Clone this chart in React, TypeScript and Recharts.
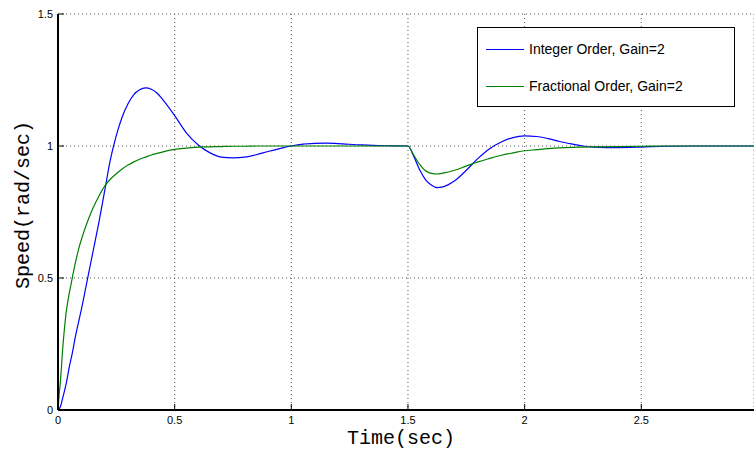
import React from 'react';
import { LineChart, Line, XAxis, YAxis, CartesianGrid, Legend } from 'recharts';

// step response, speed in rad/sec
const timeSec = [
  0, 0.005, 0.01, 0.02, 0.035, 0.05, 0.06, 0.075, 0.09, 0.1,
  0.125, 0.15, 0.175, 0.2, 0.225, 0.25, 0.275, 0.3, 0.325, 0.35,
  0.375, 0.4, 0.425, 0.45, 0.5, 0.55, 0.6, 0.65, 0.7, 0.75,
  0.8, 0.85, 0.9, 0.95, 1.0, 1.05, 1.1, 1.15, 1.2, 1.3,
  1.4, 1.5, 1.525, 1.55, 1.575, 1.6, 1.625, 1.65, 1.7, 1.75,
  1.8, 1.85, 1.9, 1.95, 2.0, 2.05, 2.1, 2.15, 2.2, 2.25,
  2.3, 2.4, 2.5, 2.6, 2.75, 3.0,
];

const integerOrder = [
  0, 0.004, 0.012, 0.045, 0.1, 0.17, 0.21, 0.28, 0.34, 0.38,
  0.49, 0.6, 0.71, 0.83, 0.95, 1.04, 1.11, 1.16, 1.195, 1.213,
  1.22, 1.215, 1.2, 1.175, 1.115, 1.05, 1.005, 0.975, 0.958, 0.955,
  0.958, 0.967, 0.979, 0.99, 1.0, 1.007, 1.01, 1.011, 1.009, 1.004,
  1.001, 1.0, 0.96, 0.91, 0.873, 0.852, 0.842, 0.845, 0.868, 0.908,
  0.953, 0.99, 1.015, 1.032, 1.038, 1.036, 1.028, 1.017, 1.008, 1.0,
  0.996, 0.994, 0.996, 0.999, 1.0, 1.0,
];

const fractionalOrder = [
  0, 0.06, 0.105, 0.23, 0.37, 0.45, 0.495, 0.56, 0.615, 0.645,
  0.71, 0.765, 0.81, 0.848, 0.875, 0.895, 0.913, 0.928, 0.94, 0.95,
  0.958, 0.966, 0.972, 0.978, 0.987, 0.992, 0.996, 0.997, 0.998, 0.999,
  0.999, 1.0, 1.0, 1.0, 1.0, 1.0, 1.0, 1.0, 1.0, 1.0,
  1.0, 1.0, 0.965, 0.93, 0.906, 0.896, 0.894, 0.897, 0.908, 0.924,
  0.94, 0.953, 0.965, 0.974, 0.982, 0.986, 0.99, 0.993, 0.995, 0.996,
  0.997, 0.998, 0.999, 1.0, 1.0, 1.0,
];

const xTicks = [0, 0.5, 1, 1.5, 2, 2.5];
const yTicks = [0, 0.5, 1, 1.5];
const seriesNames = ['Integer Order, Gain=2', 'Fractional Order, Gain=2'];
const seriesColors = ['#0000ff', '#008000'];

const data = timeSec.map((t, i) => ({
  t,
  integer: integerOrder[i],
  fractional: fractionalOrder[i],
}));

const tickFont = { fontFamily: '"Liberation Sans", Arial, sans-serif', fontSize: 11 };

// matlab style: tick marks point into the plot
const BottomTick = (props: any) => {
  const { x, y, payload } = props;
  return (
    <g>
      <line x1={x} y1={y} x2={x} y2={y - 6} stroke="#000" />
      <text x={x} y={y + 14} textAnchor="middle" fill="#000" {...tickFont}>
        {payload.value}
      </text>
    </g>
  );
};

const TopTick = (props: any) => {
  const { x, y } = props;
  return <line x1={x} y1={y} x2={x} y2={y + 6} stroke="#000" />;
};

const LeftTick = (props: any) => {
  const { x, y, payload } = props;
  return (
    <g>
      <line x1={x} y1={y} x2={x + 6} y2={y} stroke="#000" />
      <text x={x - 5} y={y + 4} textAnchor="end" fill="#000" {...tickFont}>
        {payload.value}
      </text>
    </g>
  );
};

const LegendBox = () => (
  <div
    style={{
      width: 256,
      height: 78,
      border: '1px solid #000',
      background: '#fff',
      position: 'relative',
      fontFamily: '"Liberation Sans", Arial, sans-serif',
      fontSize: 14,
      color: '#000',
    }}
  >
    {seriesNames.map((name, i) => (
      <div
        key={name}
        style={{ position: 'absolute', left: 8, top: 13 + i * 37, display: 'flex', alignItems: 'center', whiteSpace: 'nowrap' }}
      >
        <span style={{ display: 'inline-block', width: 38, height: 0, borderTop: `1px solid ${seriesColors[i]}`, marginRight: 5 }} />
        <span>{name}</span>
      </div>
    ))}
  </div>
);

export default function App() {
  return (
    <div style={{ position: 'absolute', left: 0, top: 0, width: 754, height: 449, background: '#fff' }}>
      <LineChart width={754} height={449} data={data} margin={{ top: 14, right: 0, left: 0, bottom: 0 }}>
        <CartesianGrid stroke="#555" strokeDasharray="1 3" />
        <XAxis
          dataKey="t"
          type="number"
          domain={[0, 2.983]}
          allowDataOverflow
          ticks={xTicks}
          height={39}
          tickSize={0}
          tickMargin={0}
          tick={<BottomTick />}
          axisLine={{ stroke: '#000', strokeWidth: 2 }}
          label={{ value: 'Time(sec)', position: 'insideBottom', offset: 5, dx: -5, fill: '#000', fontFamily: '"Liberation Mono", "Courier New", monospace', fontSize: 20 }}
        />
        <XAxis
          xAxisId="top"
          orientation="top"
          dataKey="t"
          type="number"
          domain={[0, 2.983]}
          allowDataOverflow
          ticks={xTicks}
          height={0}
          tickSize={0}
          tick={<TopTick />}
          axisLine={{ stroke: '#000', strokeWidth: 1 }}
        />
        <YAxis
          type="number"
          domain={[0, 1.5]}
          ticks={yTicks}
          width={58}
          tickSize={0}
          tickMargin={0}
          tick={<LeftTick />}
          axisLine={{ stroke: '#000', strokeWidth: 2 }}
          label={{ value: 'Speed(rad/sec)', angle: -90, position: 'center', dx: -7, dy: -7, fill: '#000', fontFamily: '"Liberation Mono", "Courier New", monospace', fontSize: 20 }}
        />
        <Legend
          layout="vertical"
          align="center"
          verticalAlign="middle"
          content={() => <LegendBox />}
          wrapperStyle={{ position: 'absolute', left: 477, top: 27, width: 258, height: 80 }}
        />
        <Line
          dataKey="integer"
          name={seriesNames[0]}
          type="monotone"
          stroke={seriesColors[0]}
          strokeWidth={1.2}
          dot={false}
          isAnimationActive={false}
        />
        <Line
          dataKey="fractional"
          name={seriesNames[1]}
          type="monotone"
          stroke={seriesColors[1]}
          strokeWidth={1.2}
          dot={false}
          isAnimationActive={false}
        />
      </LineChart>
    </div>
  );
}
